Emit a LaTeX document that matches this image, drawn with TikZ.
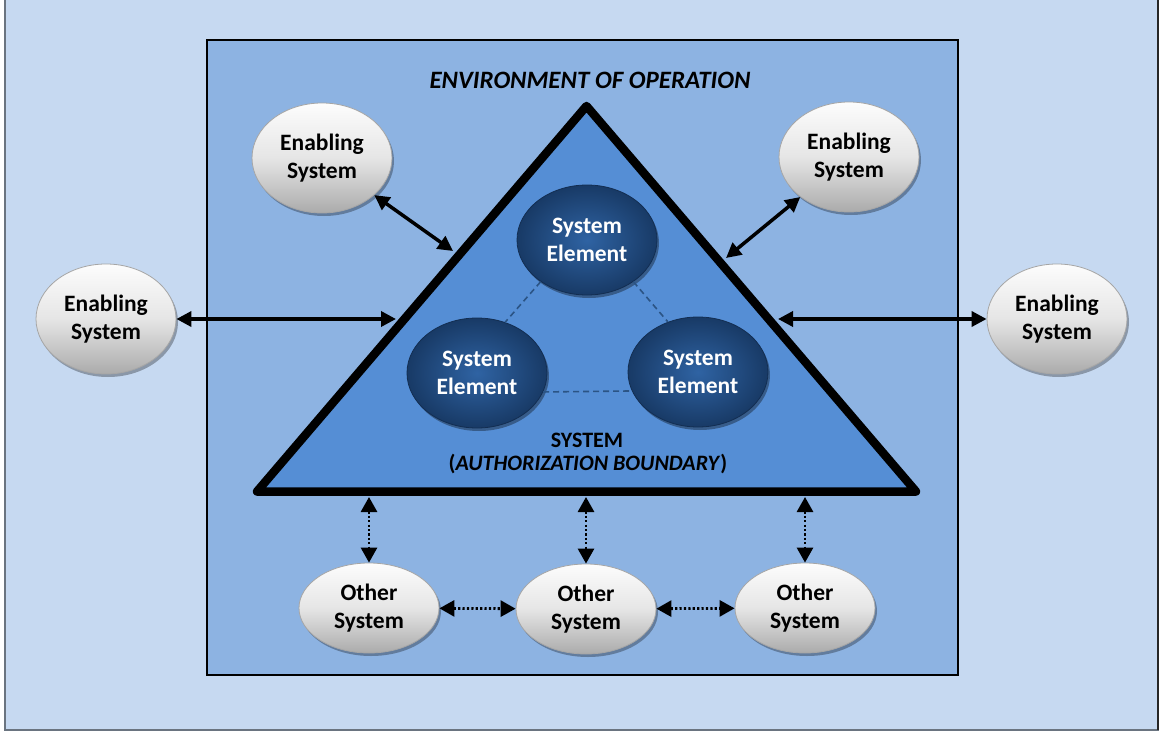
\documentclass[tikz,border=0pt]{standalone}
\usepackage{fontspec}
\setmainfont{Carlito}
\usetikzlibrary{arrows.meta,shadows,shapes.geometric}
\definecolor{bgout}{HTML}{C6D9F1}
\definecolor{outline}{HTML}{6A7480}
\definecolor{innerbg}{HTML}{8DB3E2}
\definecolor{trifill}{HTML}{558ED5}
\definecolor{sedark}{HTML}{183A66}
\definecolor{selight}{HTML}{2F63A3}
\definecolor{dashcol}{HTML}{2B5485}
\tikzset{
  lbl/.style={font=\bfseries\fontsize{22}{27}\selectfont, align=center, inner sep=0pt},
  silver/.style={ellipse, minimum width=140pt, minimum height=#1, inner sep=0pt,
    draw=black!35, line width=0.8pt, top color=black!1, bottom color=black!33, middle color=black!10,
    drop shadow={shadow xshift=2pt, shadow yshift=-3pt, opacity=0.3, fill=black},
    align=center, font=\bfseries\fontsize{23.5}{28}\selectfont},
  silver/.default=110pt,
  selem/.style={ellipse, minimum width=140pt, minimum height=110pt, inner sep=0pt,
    draw=sedark!80!black, line width=0.8pt, inner color=selight, outer color=sedark,
    drop shadow={shadow xshift=2pt, shadow yshift=-3pt, opacity=0.35, fill=black},
    text=white, align=center, font=\bfseries\fontsize{23.5}{28}\selectfont},
  solidarrow/.style={line width=3.5pt, {Triangle[length=15pt,width=15pt]}-{Triangle[length=15pt,width=15pt]}},
  dotarrow/.style={line width=2.8pt, dash pattern=on 2.2pt off 2.2pt, {Triangle[length=15pt,width=16pt]}-{Triangle[length=15pt,width=16pt]}},
  selink/.style={draw=dashcol, line width=1.6pt, dash pattern=on 6pt off 4pt},
}
\begin{document}
\begin{tikzpicture}[x=1pt,y=-1pt]
\useasboundingbox (0,0) rectangle (1164,741);
\fill[white] (0,0) rectangle (1164,741);
\begin{scope}
  \clip (0,0) rectangle (1164,741);
  \draw[draw=outline, fill=bgout, line width=1.5pt] (5,-5) rectangle (1158,730);
  \draw[draw=black!85, line width=1.5pt] (1158,-5) -- (1158,730);
\end{scope}
% environment
\draw[line width=2pt, fill=innerbg] (207,40) rectangle (958,675);
\node[lbl, font=\bfseries\itshape\fontsize{25}{30}\selectfont] (env) at (590,80) {ENVIRONMENT OF OPERATION};
% system triangle
\coordinate (apex) at (586.5,106);
\coordinate (bl) at (257,491.5);
\coordinate (br) at (916,491.5);
\draw[line width=8.5pt, line join=round, fill=trifill] (apex) -- (bl) -- (br) -- cycle;
\node[lbl] (sys) at (587,440) {SYSTEM};
\node[lbl] (auth) at (588,464) {(\textit{AUTHORIZATION BOUNDARY})};
% system elements
\node[selem] (set) at (587,240) {System\\Element};
\node[selem] (sel) at (477,373) {System\\Element};
\node[selem] (ser) at (698,372) {System\\Element};
\draw[selink] (set.222) -- (sel.61);
\draw[selink] (set.-42) -- (ser.121);
\draw[selink] (sel.-16) -- (ser.196);
% enabling systems
\node[silver] (estl) at (322,158) {Enabling\\System};
\node[silver] (estr) at (849,157) {Enabling\\System};
\node[silver] (esl) at (106,319) {Enabling\\System};
\node[silver] (esr) at (1057,319) {Enabling\\System};
\coordinate (ptl) at (453,251);
\coordinate (ptr) at (726,258);
\coordinate (pl) at (396,319);
\coordinate (pr) at (778,319);
\draw[solidarrow] (estl) -- (ptl);
\draw[solidarrow] (estr) -- (ptr);
\draw[solidarrow] (esl) -- (pl);
\draw[solidarrow] (esr) -- (pr);
% other systems
\node[silver=90pt] (os1) at (369,608) {Other\\System};
\node[silver=90pt] (os2) at (586,609) {Other\\System};
\node[silver=90pt] (os3) at (805,608) {Other\\System};
\coordinate (b1) at (369,497);
\coordinate (b2) at (586,497);
\coordinate (b3) at (805,497);
\draw[dotarrow] (b1) -- (os1.north);
\draw[dotarrow] (b2) -- (os2.north);
\draw[dotarrow] (b3) -- (os3.north);
\draw[dotarrow] (os1) -- (os2);
\draw[dotarrow] (os2) -- (os3);
\end{tikzpicture}
\end{document}
